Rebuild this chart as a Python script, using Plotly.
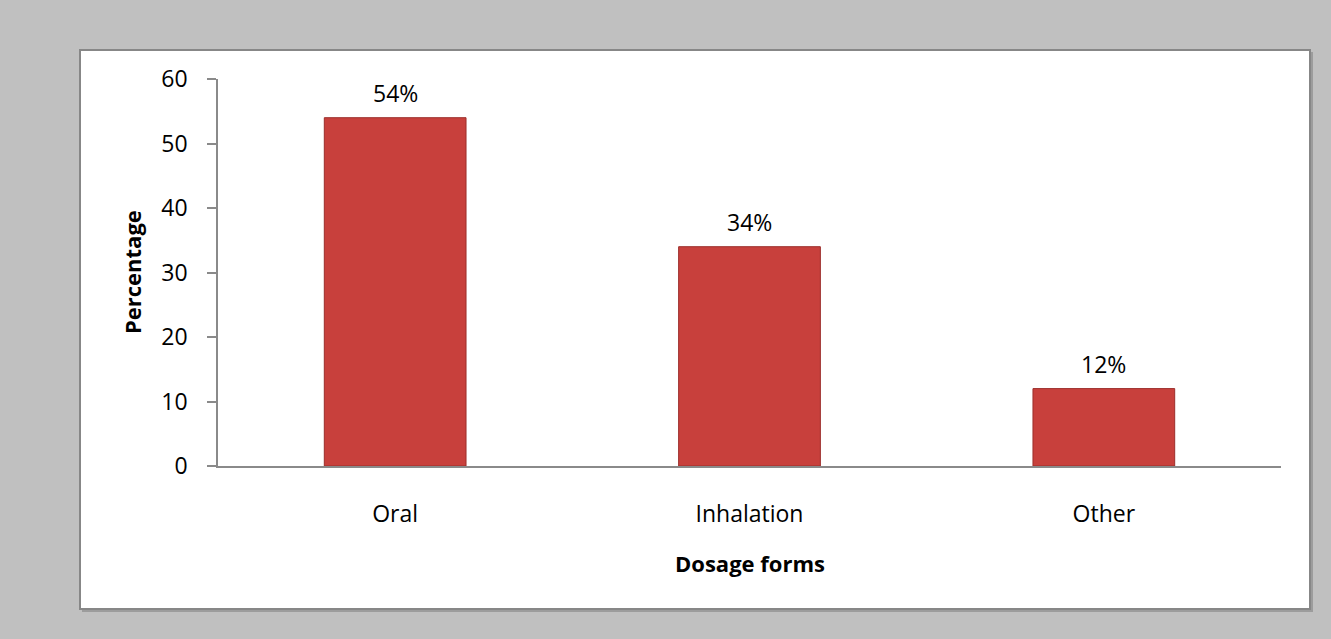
import plotly.graph_objects as go

# Share of prescriptions by dosage form
categories = ["Oral", "Inhalation", "Other"]
percentages = [54, 34, 12]
y_ticks = [0, 10, 20, 30, 40, 50, 60]

FONT = "'Open Sans', 'Noto Sans', sans-serif"
TICK_SIZE = 23
TITLE_SIZE = 22
W, H = 1331, 639
L, R, T, B = 218, 50, 79, 173
pw, ph = W - L - R, H - T - B


def px_x(px):
    return (px - L) / pw


def px_y(py):
    return (H - B - py) / ph


fig = go.Figure()
fig.add_trace(go.Bar(
    x=categories,
    y=percentages,
    width=0.4,
    marker=dict(color="#c8403c", line=dict(color="#9c2e2b", width=1)),
    hoverinfo="x+y",
))

# value labels above each bar
for c, v in zip(categories, percentages):
    fig.add_annotation(x=c, y=v, text=f"{v}%", showarrow=False,
                       yanchor="middle", yshift=25,
                       font=dict(family=FONT, size=TICK_SIZE, color="#000"))

# white chart panel with a soft shadow on the grey page
fig.add_shape(type="rect", xref="paper", yref="paper", layer="below",
              x0=px_x(82), x1=px_x(1313), y0=px_y(612), y1=px_y(52),
              fillcolor="#9c9c9c", line=dict(width=0))
fig.add_shape(type="rect", xref="paper", yref="paper", layer="below",
              x0=px_x(80), x1=px_x(1310), y0=px_y(609), y1=px_y(50),
              fillcolor="#ffffff", line=dict(color="#878787", width=2))

fig.add_annotation(text="<b>Percentage</b>", xref="paper", yref="paper",
                   x=px_x(132), y=px_y(272), xanchor="center", yanchor="middle",
                   textangle=-90, showarrow=False,
                   font=dict(family=FONT, size=TITLE_SIZE, color="#000"))
fig.add_annotation(text="<b>Dosage forms</b>", xref="paper", yref="paper",
                   x=0.5, y=px_y(563), xanchor="center", yanchor="middle",
                   showarrow=False,
                   font=dict(family=FONT, size=TITLE_SIZE, color="#000"))

fig.update_layout(
    width=W, height=H,
    margin=dict(l=L, r=R, t=T, b=B),
    paper_bgcolor="#c0c0c0",
    plot_bgcolor="rgba(0,0,0,0)",
    showlegend=False,
    bargap=0.6,
    font=dict(family=FONT, size=TICK_SIZE, color="#000"),
)
fig.update_xaxes(
    showline=True, linecolor="#8a8a8a", linewidth=1.5,
    ticks="", showgrid=False, ticklabelstandoff=27,
    tickfont=dict(family=FONT, size=TICK_SIZE, color="#000"),
)
fig.update_yaxes(
    range=[0, 60], tickvals=y_ticks, showgrid=False, zeroline=False,
    showline=True, linecolor="#8a8a8a", linewidth=1.5,
    ticks="outside", ticklen=9, tickcolor="#8a8a8a", tickwidth=1.5,
    ticklabelstandoff=15,
    tickfont=dict(family=FONT, size=TICK_SIZE, color="#000"),
)

fig.write_html("out.html")
